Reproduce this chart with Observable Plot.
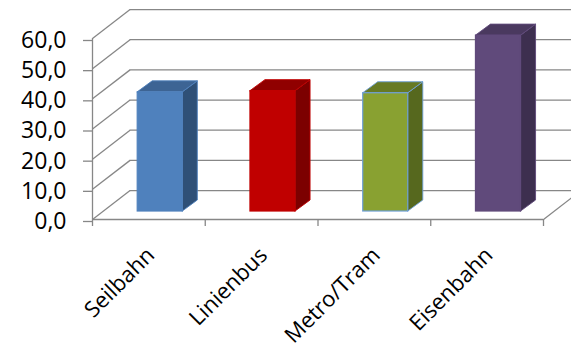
<!DOCTYPE html>
<html>
<head>
<meta charset="utf-8">
<script src="https://cdn.jsdelivr.net/npm/d3@7"></script>
<script src="https://cdn.jsdelivr.net/npm/@observablehq/plot@0.6"></script>
<style>
  html, body { margin: 0; padding: 0; background: #ffffff; }
</style>
</head>
<body>
<div id="chart"></div>
<script>
// ---- data ----
const categories = ["Seilbahn", "Linienbus", "Metro/Tram", "Eisenbahn"];
const values = [39.5, 39.9, 39.2, 58.3];
const yTicks = [0, 10, 20, 30, 40, 50, 60];
const frontColors = ["#4F81BD", "#C00000", "#89A131", "#604A7B"];
const topColors = ["#3D6494", "#900000", "#677A24", "#4A395F"];
const sideColors = ["#2F5077", "#7C0000", "#56681E", "#3D2F4F"];
const edgeColors = ["#4F81BD", "#C00000", "#6E9FD6", "#604A7B"];

// oblique projection offsets, in data units
const wallDX = 0.333, wallDY = 9.6;   // back wall
const planeDX = 0.101, planeDY = 2.65; // bar front plane
const depthDX = 0.133, depthDY = 3.65; // bar depth
const halfW = 0.2;

const bars = categories.map((c, i) => ({
  cat: c, i, v: values[i],
  x1: i + 0.5 - halfW + planeDX, x2: i + 0.5 + halfW + planeDX,
  y1: planeDY, y2: values[i] + planeDY,
  front: frontColors[i], top: topColors[i], side: sideColors[i], edge: edgeColors[i]
}));
const sidePts = bars.flatMap(b => [
  {cat: b.cat, x: b.x2, y1: b.y1, y2: b.y2, fill: b.side, edge: b.edge},
  {cat: b.cat, x: b.x2 + depthDX, y1: b.y1 + depthDY, y2: b.y2 + depthDY, fill: b.side, edge: b.edge}
]);
const topPts = bars.flatMap(b => [
  {cat: b.cat, y: b.y2, x1: b.x1, x2: b.x2, fill: b.top, edge: b.edge},
  {cat: b.cat, y: b.y2 + depthDY, x1: b.x1 + depthDX, x2: b.x2 + depthDX, fill: b.top, edge: b.edge}
]);

const grid = "#878787";
const fmt = d => d.toFixed(1).replace(".", ",");

const chart = Plot.plot({
  width: 571,
  height: 349,
  marginLeft: 92,
  marginRight: 28,
  marginTop: 38,
  marginBottom: 130,
  style: {fontFamily: "'Open Sans', sans-serif", fontSize: "23px", color: "#000", background: "#fff"},
  x: {type: "linear", domain: [0, 4], axis: null},
  y: {domain: [0, 60], axis: null},
  color: {type: "identity"},
  marks: [
    // back wall gridlines
    Plot.ruleY(yTicks, {y: d => d + wallDY, x1: wallDX, x2: 4 + wallDX + 1, stroke: grid, strokeWidth: 1.3}),
    // side wall diagonals
    Plot.link(yTicks, {x1: 0, y1: d => d, x2: wallDX, y2: d => d + wallDY, stroke: grid, strokeWidth: 1.3}),
    // floor right diagonal
    Plot.link([0], {x1: 4, y1: 0, x2: 4 + wallDX, y2: wallDY, stroke: grid, strokeWidth: 1.3}),
    // front floor edge and vertical axis
    Plot.ruleY([0], {stroke: grid, strokeWidth: 1.3}),
    Plot.ruleX([0], {y1: 0, y2: 60, stroke: grid, strokeWidth: 1.3}),
    // bars: side, top, front
    Plot.areaY(sidePts, {x: "x", y1: "y1", y2: "y2", z: "cat", fill: "fill", stroke: "edge", strokeWidth: 1, strokeOpacity: 0.9}),
    Plot.areaX(topPts, {y: "y", x1: "x1", x2: "x2", z: "cat", fill: "fill", stroke: "edge", strokeWidth: 1, strokeOpacity: 0.9}),
    Plot.rect(bars, {x1: "x1", x2: "x2", y1: "y1", y2: "y2", fill: "front", stroke: "edge", strokeWidth: 1.2}),
    // axes
    Plot.axisY({ticks: yTicks, tickSize: 9, tickPadding: 17, tickFormat: fmt, stroke: grid, strokeWidth: 1.3, fill: "#000", fontSize: 23, dy: 2, label: null}),
    Plot.axisX({ticks: [0, 1, 2, 3, 4], tickSize: 7, tickFormat: () => "", stroke: grid, strokeWidth: 1.3, label: null}),
    Plot.text(categories, {x: (d, i) => i + 0.5, frameAnchor: "bottom", text: d => d, rotate: -45, textAnchor: "end", dx: 7, dy: 37, fontSize: 22, fill: "#000"})
  ]
});
document.getElementById("chart").appendChild(chart);
</script>
</body>
</html>
